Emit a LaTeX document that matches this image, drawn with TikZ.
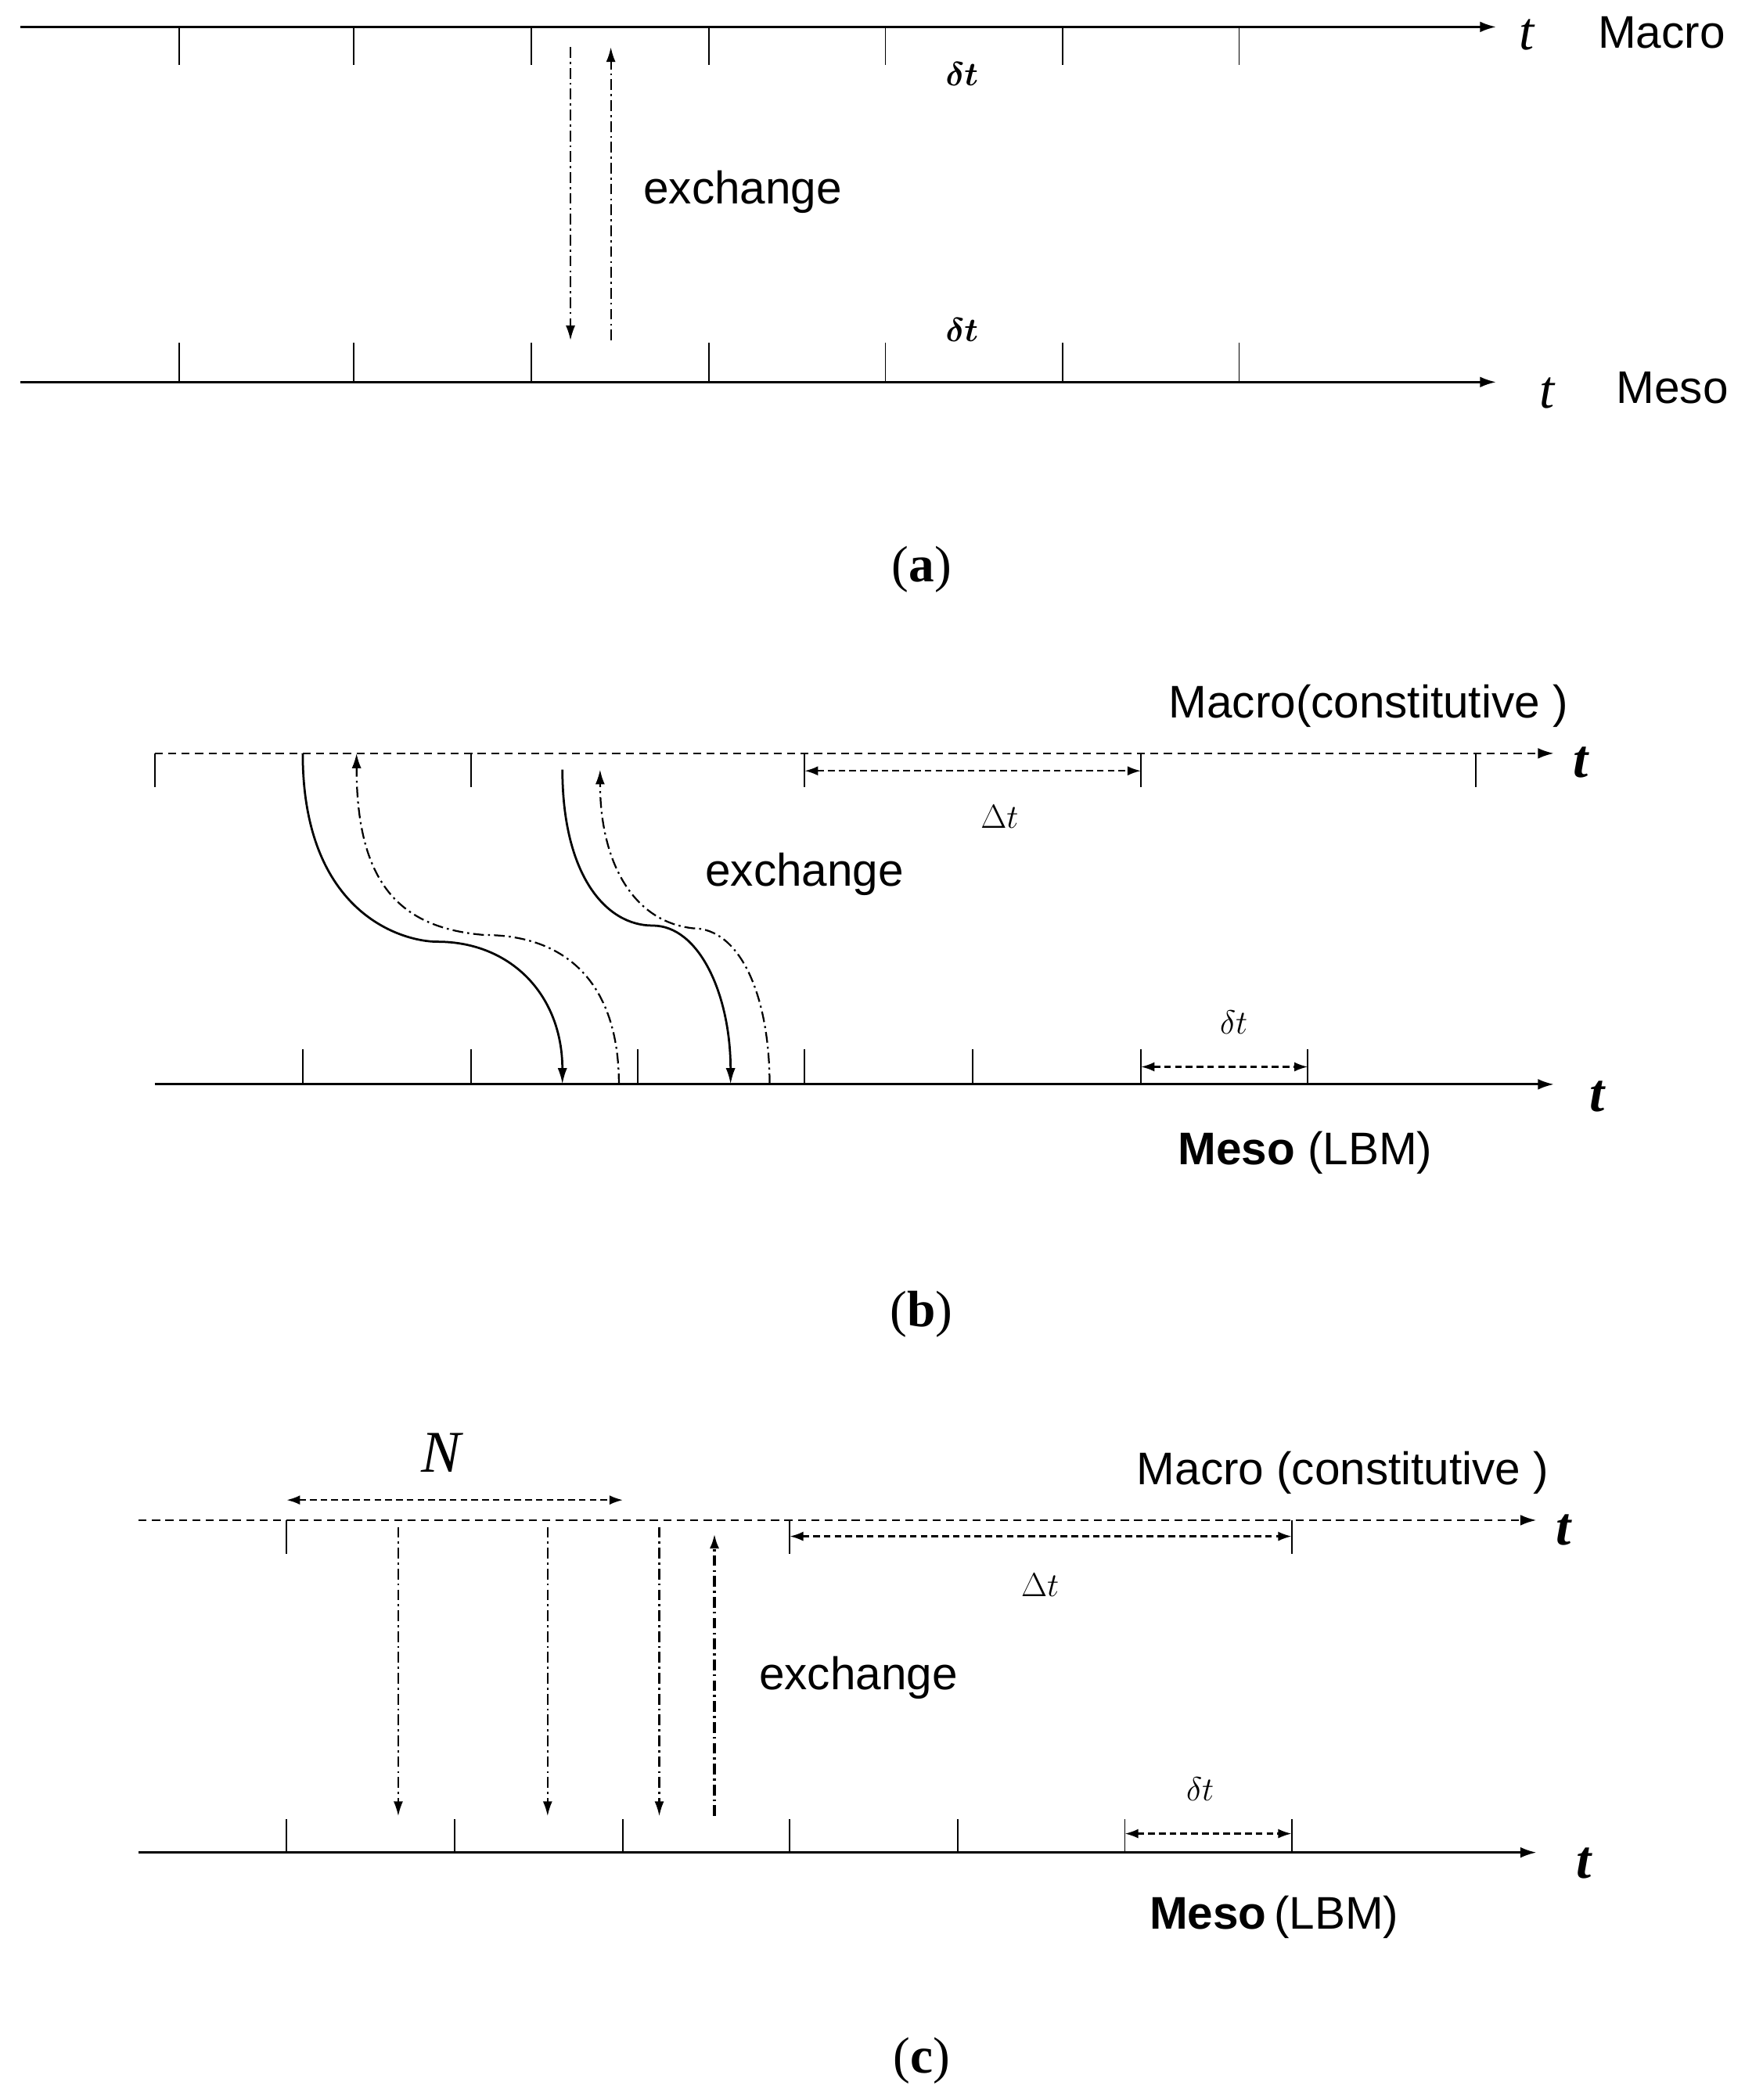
\documentclass[tikz,border=0pt]{standalone}
\usepackage{amsmath,amssymb,bm}
\usepackage{fontspec}
\setmainfont{Liberation Sans}
\newfontfamily\serifs{Liberation Serif}
\usetikzlibrary{arrows.meta}
\begin{document}
\begin{tikzpicture}[x=1pt,y=-1pt,
  ax/.style={line width=1.6pt,-{Latex[length=12pt,width=8pt]}},
  dax/.style={line width=1.6pt,dash pattern=on 6pt off 4pt,-{Latex[length=12pt,width=8pt]}},
  tk/.style={line width=1pt},
  dd/.style={line width=1.3pt,dash pattern=on 8pt off 3pt on 1.5pt off 3pt,-{Latex[length=11pt,width=7pt]}},
  sol/.style={line width=1.6pt,-{Latex[length=12pt,width=7pt]}},
  dim/.style={line width=1.4pt,dash pattern=on 5pt off 3pt,{Latex[length=10pt,width=7pt]}-{Latex[length=10pt,width=7pt]}},
  lab/.style={font=\fontsize{34}{40}\selectfont},
  tl/.style={font=\serifs\itshape\fontsize{40}{44}\selectfont},
  sym/.style={font=\serifs\itshape\fontsize{44}{48}\selectfont},
  captxt/.style={font=\serifs\fontsize{38}{44}\selectfont}]
\useasboundingbox (0,0) rectangle (1310,1561);
% ---- (a)
\coordinate (a1) at (15,20); \coordinate (a2) at (1112,20);
\draw[ax] (a1) -- (a2);
\foreach \x in {133,263,395,527,658,790,921} \draw[tk] (\x,20) -- (\x,48);
\coordinate (b1) at (15,284); \coordinate (b2) at (1112,284);
\draw[ax] (b1) -- (b2);
\foreach \x in {133,263,395,527,658,790,921} \draw[tk] (\x,284) -- (\x,255);
\node[tl] (ta) at (1135,26) {t}; \node[lab] (macro) at (1235,24) {Macro};
\node[tl] (tb) at (1150,292) {t}; \node[lab] (meso) at (1243,288) {Meso};
\node[sym] (d1) at (715,55) {$\bm{\delta t}$};
\node[sym] (d2) at (715,245) {$\bm{\delta t}$};
\coordinate (e1) at (424,35); \coordinate (e2) at (424,253);
\coordinate (e3) at (454,253); \coordinate (e4) at (454,35);
\draw[dd] (e1) -- (e2); \draw[dd] (e3) -- (e4);
\node[lab] (exa) at (552,143) {exchange};
\node[captxt] (capa) at (685,423) {(\textbf{a})};
% ---- (b)
\coordinate (c1) at (115,560); \coordinate (c2) at (1155,560);
\draw[dax] (c1) -- (c2);
\foreach \x in {115,350,598,848,1097} \draw[tk] (\x,560) -- (\x,585);
\coordinate (c3) at (115,806); \coordinate (c4) at (1155,806);
\draw[ax] (c3) -- (c4);
\foreach \x in {225,350,474,598,723,848,972} \draw[tk] (\x,806) -- (\x,780);
\node[lab] (mcb) at (1017,525) {Macro(constitutive )};
\node[tl,font=\serifs\bfseries\itshape\fontsize{40}{44}\selectfont] (tc) at (1175,567) {t};
\node[tl,font=\serifs\bfseries\itshape\fontsize{40}{44}\selectfont] (td) at (1187,815) {t};
\node[lab] (msb) at (970,857) {\textbf{Meso} (LBM)};
\coordinate (D1) at (598,573); \coordinate (D2) at (848,573);
\draw[dim] (D1) -- (D2);
\node[sym] (Dt) at (743,607) {$\Delta t$};
\coordinate (s1) at (848,793); \coordinate (s2) at (972,793);
\draw[dim] (s1) -- (s2);
\node[sym] (st) at (917,760) {$\delta t$};
\coordinate (p1) at (225,560); \coordinate (p2) at (418,806);
\draw[sol] (p1) .. controls (225,680) and (300,700) .. (325,700) .. controls (380,700) and (418,740) .. (p2);
\coordinate (q1) at (460,806); \coordinate (q2) at (265,560);
\draw[dd] (q1) .. controls (460,730) and (420,695) .. (360,695) .. controls (300,690) and (265,660) .. (q2);
\coordinate (p3) at (418,572); \coordinate (p4) at (543,806);
\draw[sol] (p3) .. controls (418,650) and (450,688) .. (485,688) .. controls (520,688) and (543,740) .. (p4);
\coordinate (q3) at (572,806); \coordinate (q4) at (446,572);
\draw[dd] (q3) .. controls (572,740) and (550,690) .. (515,690) .. controls (470,685) and (446,640) .. (q4);
\node[lab] (exb) at (598,650) {exchange};
\node[captxt] (capb) at (685,977) {(\textbf{b})};
% ---- (c)
\coordinate (f1) at (103,1130); \coordinate (f2) at (1142,1130);
\draw[dax] (f1) -- (f2);
\foreach \x in {213,587,960} \draw[tk] (\x,1130) -- (\x,1155);
\coordinate (g1) at (103,1377); \coordinate (g2) at (1142,1377);
\draw[ax] (g1) -- (g2);
\foreach \x in {213,338,463,587,712,836,960} \draw[tk] (\x,1377) -- (\x,1352);
\coordinate (n1) at (213,1115); \coordinate (n2) at (463,1115);
\draw[dim] (n1) -- (n2);
\node[sym] (N) at (328,1080) {N};
\node[lab] (mcc) at (998,1095) {Macro (constitutive )};
\node[tl,font=\serifs\bfseries\itshape\fontsize{40}{44}\selectfont] (te) at (1162,1137) {t};
\node[tl,font=\serifs\bfseries\itshape\fontsize{40}{44}\selectfont] (tf) at (1177,1385) {t};
\coordinate (h1) at (587,1142); \coordinate (h2) at (960,1142);
\draw[dim] (h1) -- (h2);
\node[sym] (Dt2) at (773,1178) {$\Delta t$};
\coordinate (k1) at (836,1363); \coordinate (k2) at (960,1363);
\draw[dim] (k1) -- (k2);
\node[sym] (st2) at (892,1330) {$\delta t$};
\node[lab] (msc) at (947,1425) {\textbf{Meso}\,(LBM)};
\foreach \x/\n in {296/a,407/b,490/c} {
  \coordinate (u\n) at (\x,1135); \coordinate (v\n) at (\x,1350);
  \draw[dd] (u\n) -- (v\n);}
\coordinate (w1) at (531,1350); \coordinate (w2) at (531,1140);
\draw[dd,line width=2pt] (w1) -- (w2);
\node[lab] (exc) at (638,1247) {exchange};
\node[captxt] (capc) at (685,1532) {(\textbf{c})};
\end{tikzpicture}
\end{document}
